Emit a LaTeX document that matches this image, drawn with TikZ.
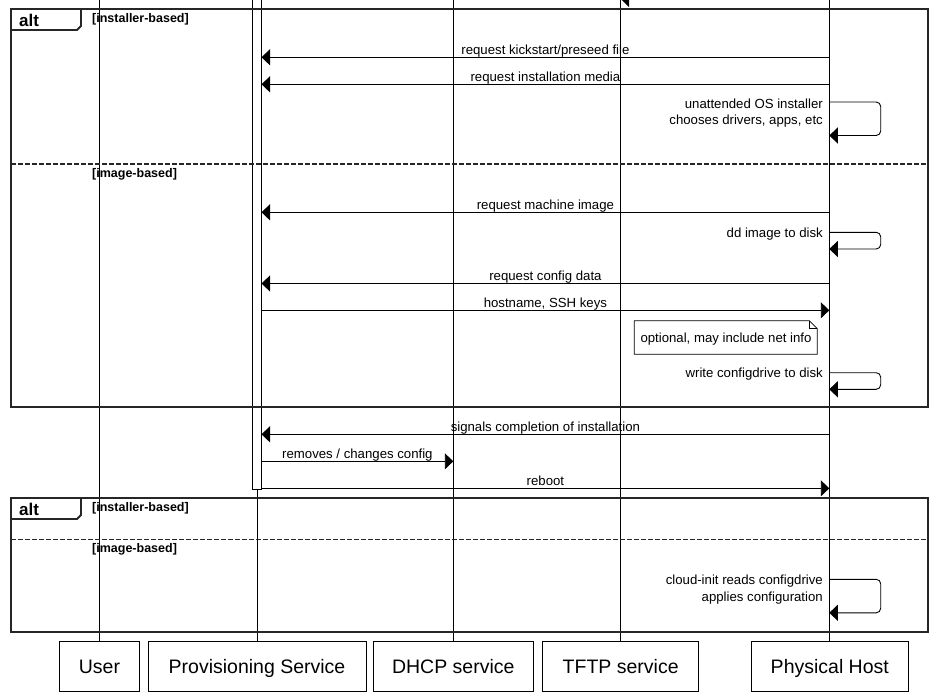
\documentclass[tikz,border=0pt]{standalone}
\usepackage{fontspec}
\setmainfont{Liberation Sans}
\usetikzlibrary{arrows.meta}
\begin{document}
\begin{tikzpicture}[x=1pt,y=-1pt,
  msg/.style={line width=0.9pt,-{Triangle[length=8.5pt,width=16pt]}},
  selfmsg/.style={msg, rounded corners=4.5pt},
  life/.style={line width=0.9pt},
  frm/.style={line width=1.8pt, draw=black!85},
  sep/.style={line width=1.6pt, draw=black!85, dash pattern=on 5pt off 2pt},
  mtxt/.style={font=\fontsize{13.2}{15}\selectfont, inner sep=0pt, anchor=base},
  stxt/.style={font=\fontsize{13.2}{15}\selectfont, inner sep=0pt, anchor=base east},
  guard/.style={font=\bfseries\fontsize{12.5}{14}\selectfont, inner sep=0pt, anchor=base west},
  alttxt/.style={font=\bfseries\fontsize{17}{19}\selectfont, inner sep=0pt, anchor=base west},
  part/.style={draw, line width=0.9pt, fill=white, minimum height=50.6pt, inner sep=0pt,
    text height=14pt, text depth=0pt, font=\fontsize{19.5}{22}\selectfont},
  notebox/.style={draw, line width=0.8pt, fill=white}
]
\clip (0,0) rectangle (937,696);
\fill[white] (0,0) rectangle (937,696);

% participants
\node[part, minimum width=80pt]  (U) at (99.5,666.5) {User};
\node[part, minimum width=218pt] (P) at (257,666.5) {Provisioning Service};
\node[part, minimum width=160pt] (D) at (453.3,666.5) {DHCP service};
\node[part, minimum width=156pt] (T) at (620.7,666.5) {TFTP service};
\node[part, minimum width=157pt] (H) at (829.8,666.5) {Physical Host};

% lifelines
\coordinate (Ut) at (99.3,0);
\coordinate (Pt) at (257,0);
\coordinate (Dt) at (453.3,0);
\coordinate (Tt) at (620.7,0);
\coordinate (Ht) at (829.3,0);
\draw[life] (Ut) -- (Ut |- U.north);
\draw[life] (Pt) -- (P.north);
\draw[life] (Dt) -- (D.north);
\draw[life] (Tt) -- (T.north);
\draw[life] (Ht) -- (Ht |- H.north);

% activation bar
\draw[line width=0.9pt, fill=white] (252.5,-5) rectangle (261.5,489);

% cut-off arrowhead from previous message
\fill (620.7,-1) -- (629,-9) -- (629,7) -- cycle;

% ---------- first alt ----------
\draw[frm] (11,9) rectangle (928,407.3);
\draw[frm] (11,30) -- (77,30) -- (81,26) -- (81,9);
\node[alttxt] (alt1) at (19,26.5) {alt};
\node[guard] (g1) at (92,22) {[installer-based]};
\draw[sep] (11,164) -- (928,164);
\node[guard] (g2) at (92,177.5) {[image-based]};

\coordinate (h1) at (829.3,57.3);  \coordinate (p1) at (261.5,57.3);
\draw[msg] (h1) -- node[mtxt, midway, yshift=3.3pt] (t1) {request kickstart/preseed file} (p1);
\coordinate (h2) at (829.3,84.3);  \coordinate (p2) at (261.5,84.3);
\draw[msg] (h2) -- node[mtxt, midway, yshift=3.3pt] (t2) {request installation media} (p2);

\coordinate (h3a) at (829.3,102); \coordinate (h3b) at (829.3,135.5);
\draw[selfmsg] (h3a) -- (880.7,102) -- (880.7,135.5) -- (h3b);
\node[stxt] (t3a) at (823,108) {unattended OS installer};
\node[stxt] (t3b) at (823,124.5) {chooses drivers, apps, etc};

\coordinate (h4) at (829.3,212.3); \coordinate (p4) at (261.5,212.3);
\draw[msg] (h4) -- node[mtxt, midway, yshift=3.3pt] (t4) {request machine image} (p4);

\coordinate (h5a) at (829.3,232.3); \coordinate (h5b) at (829.3,249);
\draw[selfmsg] (h5a) -- (880.7,232.3) -- (880.7,249) -- (h5b);
\node[stxt] (t5) at (823,237.5) {dd image to disk};

\coordinate (h6) at (829.3,283.5); \coordinate (p6) at (261.5,283.5);
\draw[msg] (h6) -- node[mtxt, midway, yshift=3.3pt] (t6) {request config data} (p6);
\coordinate (p7) at (261.5,310.3); \coordinate (h7) at (829.3,310.3);
\draw[msg] (p7) -- node[mtxt, midway, yshift=3.3pt] (t7) {hostname, SSH keys} (h7);

% note
\draw[notebox] (634.3,320.7) -- (809.3,320.7) -- (817.3,328.7) -- (817.3,354.3) -- (634.3,354.3) -- cycle;
\draw[line width=0.8pt] (809.3,320.7) -- (809.3,328.7) -- (817.3,328.7);
\node[mtxt] (note) at (726,342) {optional, may include net info};

\coordinate (h8a) at (829.3,372.7); \coordinate (h8b) at (829.3,389.3);
\draw[selfmsg] (h8a) -- (880.7,372.7) -- (880.7,389.3) -- (h8b);
\node[stxt] (t8) at (823,377.5) {write configdrive to disk};

% ---------- between ----------
\coordinate (h9) at (829.3,434.3); \coordinate (p9) at (261.5,434.3);
\draw[msg] (h9) -- node[mtxt, midway, yshift=3.3pt] (t9) {signals completion of installation} (p9);
\coordinate (p10) at (261.5,461.3); \coordinate (d10) at (453.3,461.3);
\draw[msg] (p10) -- node[mtxt, midway, yshift=3.3pt] (t10) {removes / changes config} (d10);
\coordinate (p11) at (261.5,488.3); \coordinate (h11) at (829.3,488.3);
\draw[msg] (p11) -- node[mtxt, midway, yshift=3.3pt] (t11) {reboot} (h11);

% ---------- second alt ----------
\draw[frm] (11,498) rectangle (928,631.7);
\draw[frm] (11,519) -- (77,519) -- (81,515) -- (81,498);
\node[alttxt] (alt2) at (19,515.5) {alt};
\node[guard] (g3) at (92,511) {[installer-based]};
\draw[sep] (11,539.5) -- (928,539.5);
\node[guard] (g4) at (92,552.5) {[image-based]};

\coordinate (h12a) at (829.3,579.3); \coordinate (h12b) at (829.3,612.8);
\draw[selfmsg] (h12a) -- (880.7,579.3) -- (880.7,612.8) -- (h12b);
\node[stxt] (t12a) at (823,584.5) {cloud-init reads configdrive};
\node[stxt] (t12b) at (823,601) {applies configuration};
\end{tikzpicture}
\end{document}
